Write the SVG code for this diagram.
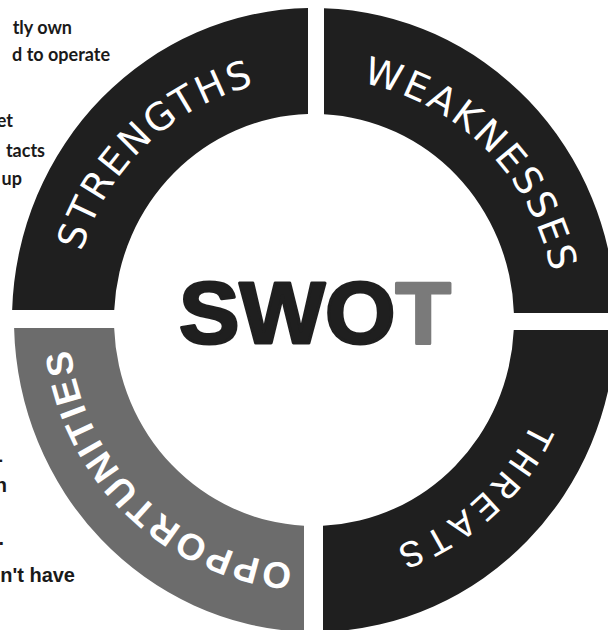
<svg xmlns="http://www.w3.org/2000/svg" xmlns:xlink="http://www.w3.org/1999/xlink" width="608" height="630" viewBox="0 0 608 630">
  <style>
    .seg { fill: #1f1f1f; }
    .seg-grey { fill: #6c6c6c; }
    .lbl { fill: #ffffff; font-family: "DejaVu Sans", "Liberation Sans", sans-serif; font-size: 38px; }
    .lbl-mono { fill: #ffffff; font-family: "Liberation Mono", "DejaVu Sans Mono", monospace; font-size: 38px; }
    .lbl-bold { fill: #ffffff; font-family: "Liberation Sans", Arial, sans-serif; font-size: 37px; font-weight: bold; }
    .note-a { fill: #1a1a1a; font-family: "Lato", "Liberation Sans", sans-serif; font-size: 18px; font-weight: bold; text-anchor: end; }
    .note-b { fill: #1a1a1a; font-family: "Liberation Sans", Arial, sans-serif; font-size: 20px; font-weight: bold; text-anchor: end; }
    .title { font-family: "Liberation Sans", Arial, sans-serif; font-size: 88px; font-weight: bold; fill: #1f1f1f; stroke: #1f1f1f; stroke-width: 3; stroke-linejoin: round; }
  </style>
  <defs>
    <path id="p-str" d="M73.33,294.70 A242,242 0 0 1 297.12,78.59"/>
    <path id="p-weak" d="M314,78 A242,242 0 0 1 556,320"/>
    <path id="p-thr" d="M554.77,330.51 A241,241 0 0 1 303.49,560.77"/>
    <path id="p-opp" d="M318.28,564.96 A244,244 0 0 1 69.04,324.28"/>
  </defs>
  <rect width="608" height="630" fill="#ffffff"/>

  <g id="strengths">
    <path class="seg" d="M12.15,310 A302,312 0 0 1 308,8.06 L308,114.09 A200,206 0 0 0 114.24,310 Z"/>
    <text class="lbl" textLength="250" lengthAdjust="spacing"><textPath xlink:href="#p-str" href="#p-str" startOffset="50%" text-anchor="middle">STRENGTHS</textPath></text>
  </g>

  <g id="weaknesses">
    <path class="seg" d="M324,8.17 A302,312 0 0 1 615.92,313 L513.88,313 A200,206 0 0 0 324,114.26 Z"/>
    <text class="lbl" textLength="283" lengthAdjust="spacing"><textPath xlink:href="#p-weak" href="#p-weak" startOffset="50%" text-anchor="middle">WEAKNESSES</textPath></text>
  </g>

  <g id="threats">
    <path class="seg" d="M615.85,330 A302,312 0 0 1 323,631.86 L323,525.79 A200,206 0 0 0 513.76,330 Z"/>
    <text class="lbl-mono" textLength="190" lengthAdjust="spacing"><textPath xlink:href="#p-thr" href="#p-thr" startOffset="50%" text-anchor="middle">THREATS</textPath></text>
  </g>

  <g id="opportunities">
    <path class="seg-grey" d="M304,631.83 A302,312 0 0 1 14.1,328 L114.15,328 A200,206 0 0 0 304,525.74 Z"/>
    <text class="lbl-bold" textLength="334" lengthAdjust="spacing"><textPath xlink:href="#p-opp" href="#p-opp" startOffset="50%" text-anchor="middle">OPPORTUNITIES</textPath></text>
  </g>

  <g id="title">
    <text class="title" x="179" y="343" textLength="272" lengthAdjust="spacingAndGlyphs">SWO<tspan fill="#7a7a7a" stroke="#7a7a7a">T</tspan></text>
  </g>

  <g id="notes">
    <text class="note-a" x="72" y="34">tly own</text>
    <text class="note-a" x="110" y="61">d to operate</text>
    <text class="note-a" x="13" y="127">et</text>
    <text class="note-a" x="45" y="157">tacts</text>
    <text class="note-a" x="22" y="185">up</text>
    <text class="note-b" x="3" y="466">-</text>
    <text class="note-b" x="7" y="492">n</text>
    <text class="note-b" x="4" y="545">.</text>
    <text class="note-b" x="75" y="582">n't have</text>
  </g>

  <g id="connectors"/>
</svg>
